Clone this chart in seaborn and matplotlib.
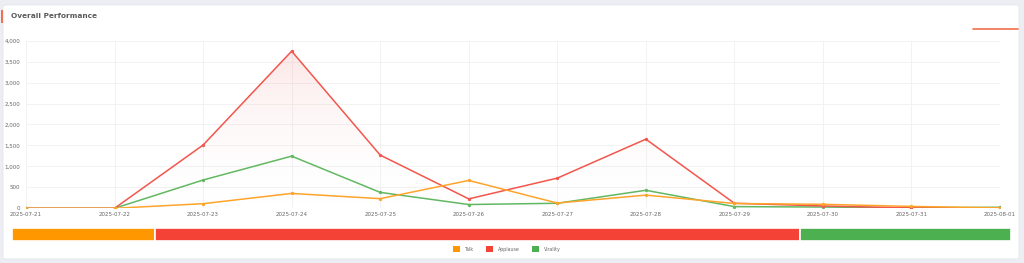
import numpy as np
import pandas as pd
import matplotlib
matplotlib.use("Agg")
import matplotlib.pyplot as plt
import matplotlib.patches as mpatches
from matplotlib.colors import LinearSegmentedColormap
import seaborn as sns

dates = ["2025-07-21", "2025-07-22", "2025-07-23", "2025-07-24", "2025-07-25", "2025-07-26",
         "2025-07-27", "2025-07-28", "2025-07-29", "2025-07-30", "2025-07-31", "2025-08-01"]
talk = [0, 0, 110, 355, 230, 665, 125, 315, 115, 95, 45, 10]
applause = [0, 0, 1510, 3750, 1270, 225, 720, 1650, 120, 55, 10, 5]
virality = [0, 0, 675, 1245, 380, 90, 120, 430, 40, 30, 10, 25]
series_names = ["Talk", "Applause", "Virality"]
colors = {"Talk": "#FFA42B", "Applause": "#F2564C", "Virality": "#62B862"}
bar_colors = {"Talk": "#FF9800", "Applause": "#F44336", "Virality": "#4CAF50"}
yticks = [0, 500, 1000, 1500, 2000, 2500, 3000, 3500, 4000]

sns.set_theme(style="white")
plt.rcParams['font.family'] = ['DejaVu Sans']

W, H = 1024, 263
fig = plt.figure(figsize=(W / 100, H / 100), dpi=100)
fig.patch.set_facecolor("#eceef3")

# card
card = mpatches.FancyBboxPatch((3 / W, 4 / H), 1016 / W, 254 / H,
                               boxstyle="round,pad=0,rounding_size=0.004",
                               transform=fig.transFigure, facecolor="white",
                               edgecolor="#e4e6ea", linewidth=0.6, zorder=-10)
fig.patches.append(card)
fig.patches.append(mpatches.Rectangle((1 / W, 1 - 23 / H), 2 / W, 13 / H, transform=fig.transFigure,
                                      facecolor="#F4704C", edgecolor="none", zorder=-5))
fig.text(11 / W, 1 - 16 / H, "Overall Performance", fontsize=5.3, fontweight="bold",
         color="#5a5a5a", va="center", ha="left")
fig.add_artist(plt.Line2D([973 / W, 1018 / W], [1 - 29 / H, 1 - 29 / H], transform=fig.transFigure,
                          color="#F4704C", linewidth=1.2))

df = pd.DataFrame({"idx": list(range(len(dates))) * 3,
                   "value": talk + applause + virality,
                   "series": sum([[s] * len(dates) for s in series_names], [])})

ax = fig.add_axes([26 / W, 1 - 208.3 / H, (1000 - 26) / W, (208.3 - 40.7) / H])
ax.set_facecolor("none")
x = np.arange(len(dates))

# gradient fill under applause
grad = np.linspace(0, 1, 256).reshape(-1, 1)
cmap = LinearSegmentedColormap.from_list("g", [(1, 1, 1, 0), (0.93, 0.4, 0.4, 0.16)])
im = ax.imshow(grad, extent=[0, len(dates) - 1, 0, max(applause)], origin="lower",
               aspect="auto", cmap=cmap, zorder=1)
poly = ax.fill_between(x, applause, 0, facecolor="none", edgecolor="none")
im.set_clip_path(poly.get_paths()[0], transform=ax.transData)

for s, z in [("Virality", 3), ("Applause", 4), ("Talk", 5)]:
    sns.lineplot(data=df[df.series == s], x="idx", y="value", ax=ax, color=colors[s],
                 linewidth=1.1, marker="o", markersize=2.4, markeredgewidth=0, zorder=z,
                 legend=False)

ax.set_xlim(0, len(dates) - 1)
ax.set_ylim(0, 4000)
ax.set_xticks(x)
ax.set_xticklabels(dates)
ax.set_yticks(yticks)
ax.set_yticklabels([f"{v:,}" for v in yticks])
ax.tick_params(axis="both", labelsize=4.0, colors="#666666", length=0, pad=3)
ax.tick_params(axis="y", pad=4)
ax.set_xlabel("")
ax.set_ylabel("")
ax.grid(True, color="#f0f0f0", linewidth=0.6)
ax.set_axisbelow(True)
for sp in ax.spines.values():
    sp.set_visible(False)

# stacked proportion bar
totals = [sum(talk), sum(applause), sum(virality)]
bx = fig.add_axes([12 / W, 1 - 241 / H, (1011 - 12) / W, 13 / H])
bx.set_facecolor("none")
left = 0
for s, t in zip(series_names, totals):
    bx.barh([0], [t], left=left, color=bar_colors[s], height=1.0, edgecolor="white", linewidth=1.2)
    left += t
bx.set_xlim(0, sum(totals))
bx.set_ylim(-0.5, 0.5)
bx.axis("off")

handles = [mpatches.Patch(facecolor=bar_colors[s], edgecolor="none", label=s) for s in series_names]
fig.legend(handles=handles, loc="center", bbox_to_anchor=(507 / W, 1 - 249 / H), ncol=3,
           frameon=False, fontsize=3.4, handlelength=1.4, handleheight=1.4,
           columnspacing=2.6, handletextpad=1.1, labelcolor="#666666")

fig.savefig("out.png", dpi=100, facecolor=fig.get_facecolor())
